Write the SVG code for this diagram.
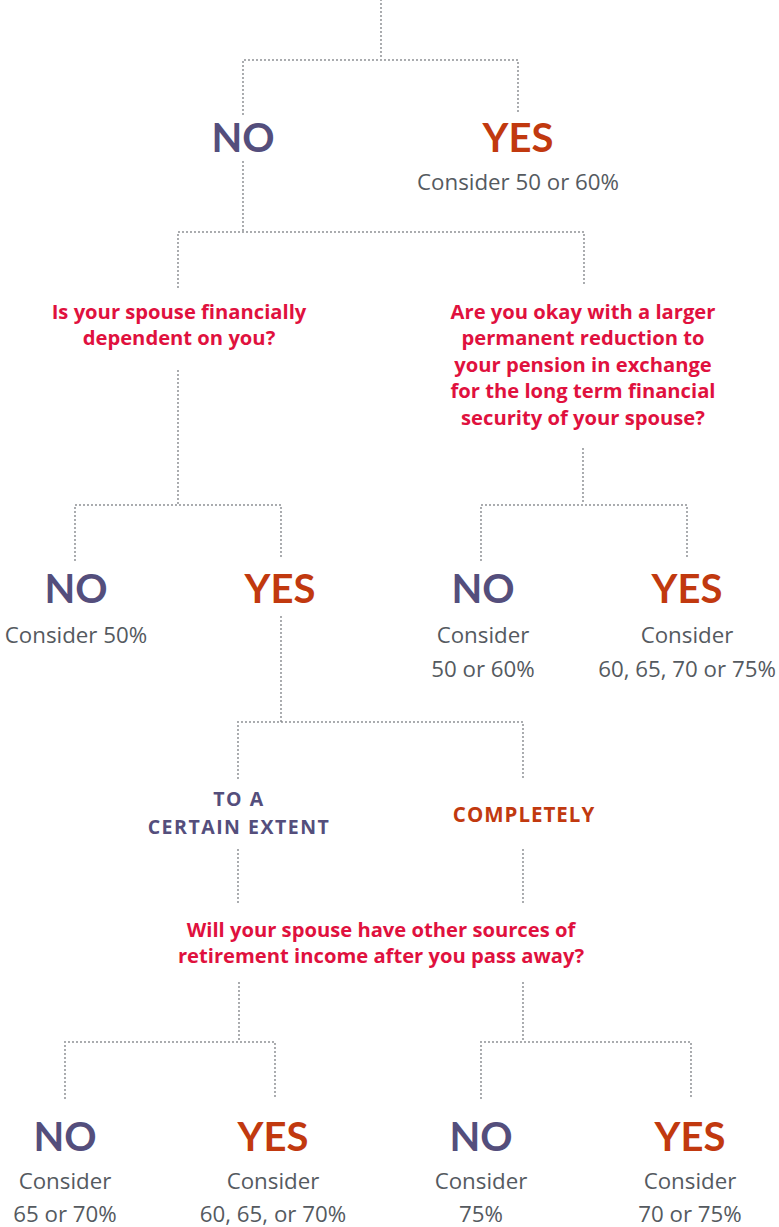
<svg xmlns="http://www.w3.org/2000/svg" width="779" height="1227" viewBox="0 0 779 1227">
<style>
.c{fill:none;stroke:#8e9195;stroke-width:2;stroke-dasharray:0 4;stroke-linecap:round}
.no{font-family:Lato,"Liberation Sans",sans-serif;font-weight:700;font-size:40px;fill:#544e7c;text-anchor:middle}
.yes{font-family:Lato,"Liberation Sans",sans-serif;font-weight:700;font-size:40px;fill:#c1390f;text-anchor:middle}
.q{font-family:"Open Sans","Liberation Sans",sans-serif;font-weight:700;font-size:20.2px;fill:#e0113e;text-anchor:middle}
.t{font-family:"Open Sans","Liberation Sans",sans-serif;font-size:22.3px;fill:#555a5f;text-anchor:middle}
.sp{font-family:"Open Sans","Liberation Sans",sans-serif;font-weight:700;font-size:19.5px;letter-spacing:1.5px;fill:#544e7c;text-anchor:middle}
.sr{font-family:"Open Sans","Liberation Sans",sans-serif;font-weight:700;font-size:20.5px;letter-spacing:1px;fill:#c1390f;text-anchor:middle}
</style>
<g id="connectors">
<path class="c" d="M381 0V60M243 114V60H518V114"/>
<path class="c" d="M243 162V232M178 287V232H584V287"/>
<path class="c" d="M178 371V505M75 560V505H281V560"/>
<path class="c" d="M583 449V505M481 560V505H687V560"/>
<path class="c" d="M281 617V722M238 778V722H523V778"/>
<path class="c" d="M238 850V906M523 850V906"/>
<path class="c" d="M239 983V1042M65 1098V1042H275V1098"/>
<path class="c" d="M523 983V1042M481 1098V1042H691V1098"/>
</g>
<g id="n-no1"><text class="no" x="243" y="152">NO</text></g>
<g id="n-yes1"><text class="yes" x="518" y="152">YES</text><text class="t" x="518" y="190">Consider 50 or 60%</text></g>
<g id="n-q1"><text class="q" x="179" y="319">Is your spouse financially</text><text class="q" x="179" y="345">dependent on you?</text></g>
<g id="n-q2"><text class="q" x="583" y="319">Are you okay with a larger</text><text class="q" x="583" y="345">permanent reduction to</text><text class="q" x="583" y="372">your pension in exchange</text><text class="q" x="583" y="398">for the long term financial</text><text class="q" x="583" y="425">security of your spouse?</text></g>
<g id="n-no2"><text class="no" x="76" y="603">NO</text><text class="t" x="76" y="643">Consider 50%</text></g>
<g id="n-yes2"><text class="yes" x="280" y="603">YES</text></g>
<g id="n-no3"><text class="no" x="483" y="603">NO</text><text class="t" x="483" y="643">Consider</text><text class="t" x="483" y="677">50 or 60%</text></g>
<g id="n-yes3"><text class="yes" x="687" y="603">YES</text><text class="t" x="687" y="643">Consider</text><text class="t" x="687" y="677">60, 65, 70 or 75%</text></g>
<g id="n-extent"><text class="sp" x="239" y="806">TO A</text><text class="sp" x="239" y="834">CERTAIN EXTENT</text></g>
<g id="n-complete"><text class="sr" x="524" y="822">COMPLETELY</text></g>
<g id="n-q3"><text class="q" x="381" y="937">Will your spouse have other sources of</text><text class="q" x="381" y="963">retirement income after you pass away?</text></g>
<g id="n-no4"><text class="no" x="65" y="1151">NO</text><text class="t" x="65" y="1189">Consider</text><text class="t" x="65" y="1222">65 or 70%</text></g>
<g id="n-yes4"><text class="yes" x="273" y="1151">YES</text><text class="t" x="273" y="1189">Consider</text><text class="t" x="273" y="1222">60, 65, or 70%</text></g>
<g id="n-no5"><text class="no" x="481" y="1151">NO</text><text class="t" x="481" y="1189">Consider</text><text class="t" x="481" y="1222">75%</text></g>
<g id="n-yes5"><text class="yes" x="690" y="1151">YES</text><text class="t" x="690" y="1189">Consider</text><text class="t" x="690" y="1222">70 or 75%</text></g>
</svg>
